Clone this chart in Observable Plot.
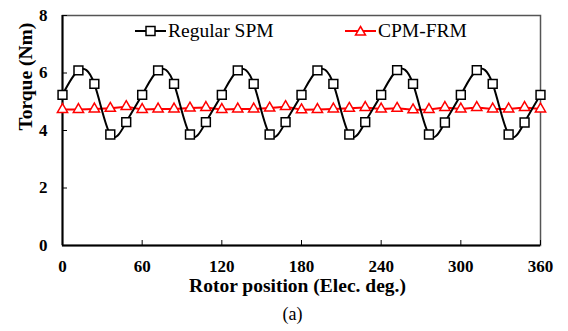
<!DOCTYPE html>
<html>
<head>
<meta charset="utf-8">
<script src="https://cdn.jsdelivr.net/npm/d3@7"></script>
<script src="https://cdn.jsdelivr.net/npm/@observablehq/plot@0.6"></script>
<style>
  body { margin: 0; background: #fff; }
  #wrap { position: relative; width: 568px; height: 331px; font-family: "Liberation Serif", "Times New Roman", "Tinos", "DejaVu Serif", serif; }
  .leg { position: absolute; display: flex; align-items: center; font-size: 19.5px; color: #000; white-space: nowrap; }
  .leg svg { margin-right: 2px; }
</style>
</head>
<body>
<div id="wrap"></div>
<script>
const angles = [0, 12, 24, 36, 48, 60, 72, 84, 96, 108, 120, 132, 144, 156, 168, 180,
  192, 204, 216, 228, 240, 252, 264, 276, 288, 300, 312, 324, 336, 348, 360];
const regularSPM = [5.24, 6.09, 5.62, 3.86, 4.29, 5.24, 6.09, 5.62, 3.86, 4.29,
  5.24, 6.09, 5.62, 3.86, 4.29, 5.24, 6.09, 5.62, 3.86, 4.29,
  5.24, 6.10, 5.62, 3.86, 4.28, 5.24, 6.10, 5.62, 3.86, 4.28, 5.24];
const cpmFRM = [4.73, 4.73, 4.75, 4.77, 4.83, 4.73, 4.75, 4.75, 4.78, 4.80,
  4.73, 4.75, 4.75, 4.78, 4.83, 4.72, 4.73, 4.75, 4.77, 4.80,
  4.75, 4.77, 4.72, 4.73, 4.80, 4.75, 4.80, 4.75, 4.75, 4.80, 4.75];
const xTicks = [0, 60, 120, 180, 240, 300, 360];
const yTicks = [0, 2, 4, 6, 8];
const seriesNames = ["Regular SPM", "CPM-FRM"];
const xTitle = "Rotor position (Elec. deg.)";
const yTitle = "Torque (Nm)";
const caption = "(a)";

const spm = angles.map((a, i) => ({x: a, y: regularSPM[i]}));
const frm = angles.map((a, i) => ({x: a, y: cpmFRM[i]}));

const font = "'Liberation Serif', 'Times New Roman', Tinos, 'DejaVu Serif', serif";

const chart = Plot.plot({
  width: 568,
  height: 331,
  marginLeft: 62,
  marginRight: 28,
  marginTop: 15,
  marginBottom: 86,
  style: {fontFamily: font, background: "#fff", color: "#000"},
  x: {domain: [0, 360], ticks: xTicks},
  y: {domain: [0, 8], ticks: yTicks},
  marks: [
    Plot.frame({stroke: "#555", strokeWidth: 1.5}),
    Plot.axisX({ticks: xTicks, tickSize: -5, tickPadding: 19, fontSize: 17, fontWeight: "bold", fontFamily: font, label: null}),
    Plot.axisY({ticks: yTicks, tickSize: -5, tickPadding: 20, fontSize: 17, fontWeight: "bold", fontFamily: font, label: null}),
    Plot.ruleX([0], {stroke: "#000", strokeWidth: 2}),
    Plot.ruleY([0], {stroke: "#000", strokeWidth: 2}),
    Plot.line(frm, {x: "x", y: "y", stroke: "#ff0000", strokeWidth: 2}),
    Plot.dot(frm, {x: "x", y: "y", symbol: "triangle", r: 3.8, stroke: "#ff0000", strokeWidth: 1.5, fill: "#fff"}),
    Plot.line(spm, {x: "x", y: "y", stroke: "#000", strokeWidth: 2, curve: "natural"}),
    Plot.dot(spm, {x: "x", y: "y", symbol: "square", r: 5, stroke: "#000", strokeWidth: 1.5, fill: "#fff"}),
    Plot.text([xTitle], {frameAnchor: "bottom", dy: 46, dx: -4, fontSize: 19.5, fontWeight: "bold", fontFamily: font, fill: "#000"}),
    Plot.text([yTitle], {frameAnchor: "left", dx: -37, rotate: -90, fontSize: 19.5, fontWeight: "bold", fontFamily: font, fill: "#000"}),
    Plot.text([caption], {frameAnchor: "bottom", dy: 74, dx: -9, fontSize: 18, fontFamily: font, fill: "#000"})
  ]
});

const wrap = document.getElementById("wrap");
wrap.appendChild(chart);

function legendItem(name, left, top, color, shape) {
  const d = document.createElement("div");
  d.className = "leg";
  d.style.left = left + "px";
  d.style.top = top + "px";
  const marker = shape === "square"
    ? `<rect x="11" y="-4.5" width="9" height="9" fill="#fff" stroke="${color}" stroke-width="1.5"/>`
    : `<path d="M15.5,-4.5 L20.5,4 L10.5,4 Z" fill="#fff" stroke="${color}" stroke-width="1.5"/>`;
  d.innerHTML = `<svg width="31" height="14" viewBox="0 -7 31 14"><line x1="0" y1="0" x2="31" y2="0" stroke="${color}" stroke-width="2"/>${marker}</svg><span>${name}</span>`;
  wrap.appendChild(d);
}
legendItem(seriesNames[0], 135, 20, "#000", "square");
legendItem(seriesNames[1], 345, 20, "#ff0000", "triangle");
</script>
</body>
</html>
